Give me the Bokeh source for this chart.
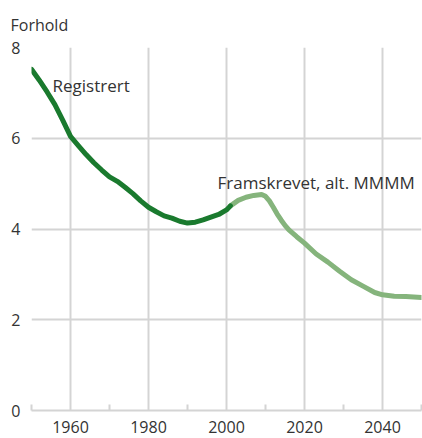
from bokeh.plotting import figure
from bokeh.models import FixedTicker, Range1d, Label
from bokeh.embed import file_html
from bokeh.resources import INLINE

# Registered
reg_years = [1950, 1952, 1954, 1956, 1958, 1960, 1962, 1964, 1966, 1968, 1970,
             1972, 1974, 1976, 1978, 1980, 1982, 1984, 1986, 1988, 1990,
             1992, 1994, 1996, 1998, 2000, 2001]
reg_vals = [7.52, 7.28, 7.02, 6.74, 6.4, 6.04, 5.84, 5.64, 5.46, 5.3, 5.15,
            5.05, 4.92, 4.78, 4.62, 4.48, 4.38, 4.29, 4.24, 4.17, 4.13,
            4.15, 4.2, 4.26, 4.32, 4.42, 4.51]

# Projected, alt. MMMM
proj_years = [2001, 2003, 2005, 2007, 2009, 2010, 2011, 2012, 2013, 2014, 2015,
              2016, 2018, 2020, 2023, 2026, 2029, 2032, 2035, 2038, 2040, 2043,
              2046, 2050]
proj_vals = [4.51, 4.63, 4.7, 4.74, 4.76, 4.72, 4.62, 4.48, 4.33, 4.2, 4.08,
             3.98, 3.83, 3.69, 3.45, 3.27, 3.07, 2.88, 2.74, 2.6, 2.55, 2.52,
             2.51, 2.49]

x_ticks = [1960, 1980, 2000, 2020, 2040]
x_minor = [1950, 1970, 1990, 2010, 2030, 2050]
y_ticks = [0, 2, 4, 6, 8]

FONT = "Open Sans"
TXT = "#333333"
GRID = "#d4d4d4"

p = figure(width=422, height=438, output_backend="svg", toolbar_location=None,
           x_range=Range1d(1950, 2050), y_range=Range1d(0, 8),
           min_border_left=31, min_border_right=1, min_border_top=46,
           min_border_bottom=28)
p.outline_line_color = None
p.background_fill_color = "white"

p.title.text = "Forhold"
p.title.text_font = FONT
p.title.text_font_size = "16px"
p.title.text_font_style = "normal"
p.title.text_color = TXT
p.title.offset = -21
p.title.standoff = 23

p.xgrid.ticker = FixedTicker(ticks=[1950] + x_ticks + [2050])
p.ygrid.ticker = FixedTicker(ticks=y_ticks)
for g in (p.xgrid, p.ygrid):
    g.grid_line_color = GRID
    g.grid_line_width = 2

p.xaxis.ticker = FixedTicker(ticks=x_ticks, minor_ticks=x_minor)
p.xaxis.axis_line_color = GRID
p.xaxis.axis_line_width = 2
p.xaxis.major_tick_line_color = None
p.xaxis.minor_tick_line_color = GRID
p.xaxis.minor_tick_line_width = 2
p.xaxis.minor_tick_in = 6
p.xaxis.minor_tick_out = 0
p.xaxis.major_label_standoff = 4

p.yaxis.ticker = FixedTicker(ticks=y_ticks)
p.yaxis.axis_line_color = None
p.yaxis.major_tick_line_color = None
p.yaxis.minor_tick_line_color = None
p.yaxis.major_tick_out = 0
p.yaxis.major_label_standoff = 11

for ax in (p.xaxis, p.yaxis):
    ax.major_label_text_font = FONT
    ax.major_label_text_font_size = "16px"
    ax.major_label_text_color = TXT

p.line(proj_years, proj_vals, line_color="#85b47c", line_width=5, line_cap="round")
p.line(reg_years, reg_vals, line_color="#1a7a2e", line_width=5, line_cap="round")

p.add_layout(Label(x=1955.4, y=7.17, text="Registrert", text_font=FONT,
                   text_font_size="17px", text_color=TXT, text_baseline="middle"))
p.add_layout(Label(x=1997.7, y=5.02, text="Framskrevet, alt. MMMM", text_font=FONT,
                   text_font_size="17px", text_color=TXT, text_baseline="middle"))

open("out.html", "w").write(file_html(p, INLINE))
